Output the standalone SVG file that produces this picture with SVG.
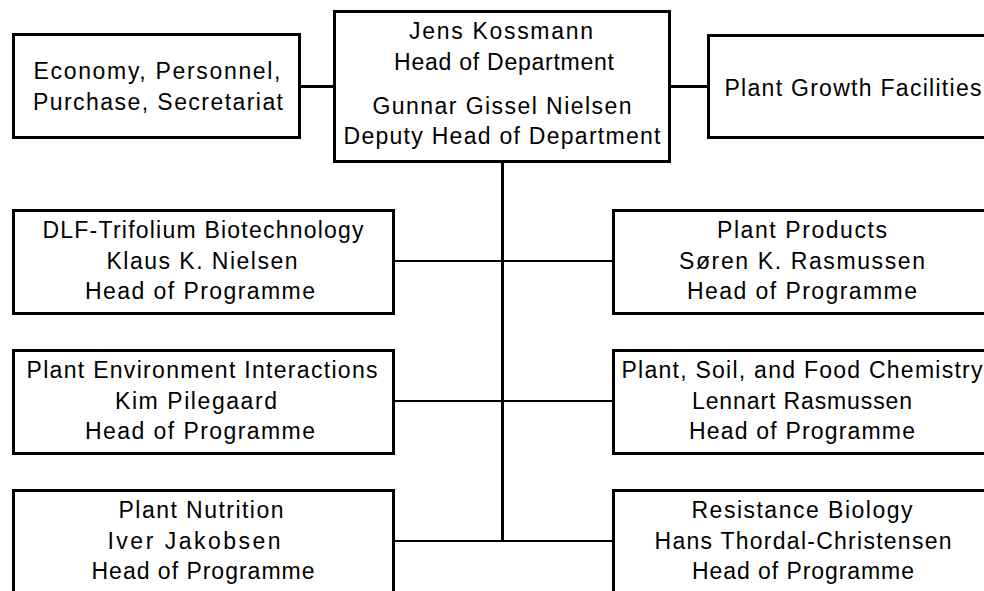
<svg xmlns="http://www.w3.org/2000/svg" width="984" height="591" viewBox="0 0 984 591">
<style>
.box{fill:#fff;stroke:#000;stroke-width:3}
.c{stroke:#000;fill:none}
text{font-family:"Liberation Sans",Arial,sans-serif;font-size:23px;fill:#000;text-anchor:middle}
</style>
<rect width="984" height="591" fill="#fff"/>
<g id="connectors">
<line class="c" x1="502.5" y1="163" x2="502.5" y2="542" stroke-width="3"/>
<line class="c" x1="301" y1="86.5" x2="334" y2="86.5" stroke-width="3"/>
<line class="c" x1="670" y1="86.5" x2="708" y2="86.5" stroke-width="3"/>
<line class="c" x1="394" y1="261" x2="613" y2="261" stroke-width="2"/>
<line class="c" x1="394" y1="401" x2="613" y2="401" stroke-width="2"/>
<line class="c" x1="394" y1="541" x2="613" y2="541" stroke-width="2"/>
</g>
<g id="head">
<rect class="box" x="334.5" y="11.5" width="335" height="150"/>
<text x="501" y="39" textLength="184" lengthAdjust="spacing">Jens Kossmann</text>
<text x="504" y="70" textLength="220" lengthAdjust="spacing">Head of Department</text>
<text x="502" y="114" textLength="259" lengthAdjust="spacing">Gunnar Gissel Nielsen</text>
<text x="502" y="144" textLength="317" lengthAdjust="spacing">Deputy Head of Department</text>
</g>
<g id="economy">
<rect class="box" x="13.5" y="34.5" width="286" height="103"/>
<text x="157" y="79" textLength="247" lengthAdjust="spacing">Economy, Personnel,</text>
<text x="158" y="110" textLength="250" lengthAdjust="spacing">Purchase, Secretariat</text>
</g>
<g id="growth">
<rect class="box" x="708.5" y="35.5" width="320" height="102"/>
<text x="853" y="96" textLength="257" lengthAdjust="spacing">Plant Growth Facilities</text>
</g>
<g id="dlf">
<rect class="box" x="13.5" y="210.5" width="380" height="103"/>
<text x="203" y="238" textLength="321" lengthAdjust="spacing">DLF-Trifolium Biotechnology</text>
<text x="202" y="269" textLength="191" lengthAdjust="spacing">Klaus K. Nielsen</text>
<text x="200" y="299" textLength="230" lengthAdjust="spacing">Head of Programme</text>
</g>
<g id="products">
<rect class="box" x="613.5" y="210.5" width="400" height="103"/>
<text x="802" y="238" textLength="170" lengthAdjust="spacing">Plant Products</text>
<text x="802" y="269" textLength="246" lengthAdjust="spacing">Søren K. Rasmussen</text>
<text x="802" y="299" textLength="230" lengthAdjust="spacing">Head of Programme</text>
</g>
<g id="environment">
<rect class="box" x="13.5" y="350.5" width="380" height="103"/>
<text x="202" y="378" textLength="351" lengthAdjust="spacing">Plant Environment Interactions</text>
<text x="196" y="409" textLength="162" lengthAdjust="spacing">Kim Pilegaard</text>
<text x="200" y="439" textLength="230" lengthAdjust="spacing">Head of Programme</text>
</g>
<g id="chemistry">
<rect class="box" x="613.5" y="350.5" width="400" height="103"/>
<text x="802" y="378" textLength="361" lengthAdjust="spacing">Plant, Soil, and Food Chemistry</text>
<text x="802" y="409" textLength="220" lengthAdjust="spacing">Lennart Rasmussen</text>
<text x="802" y="439" textLength="226" lengthAdjust="spacing">Head of Programme</text>
</g>
<g id="nutrition">
<rect class="box" x="13.5" y="490.5" width="380" height="150"/>
<text x="201" y="518" textLength="165" lengthAdjust="spacing">Plant Nutrition</text>
<text x="194" y="549" textLength="173" lengthAdjust="spacing">Iver Jakobsen</text>
<text x="203" y="579" textLength="223" lengthAdjust="spacing">Head of Programme</text>
</g>
<g id="resistance">
<rect class="box" x="613.5" y="490.5" width="400" height="150"/>
<text x="802" y="518" textLength="221" lengthAdjust="spacing">Resistance Biology</text>
<text x="803" y="549" textLength="297" lengthAdjust="spacing">Hans Thordal-Christensen</text>
<text x="803" y="579" textLength="222" lengthAdjust="spacing">Head of Programme</text>
</g>
</svg>
